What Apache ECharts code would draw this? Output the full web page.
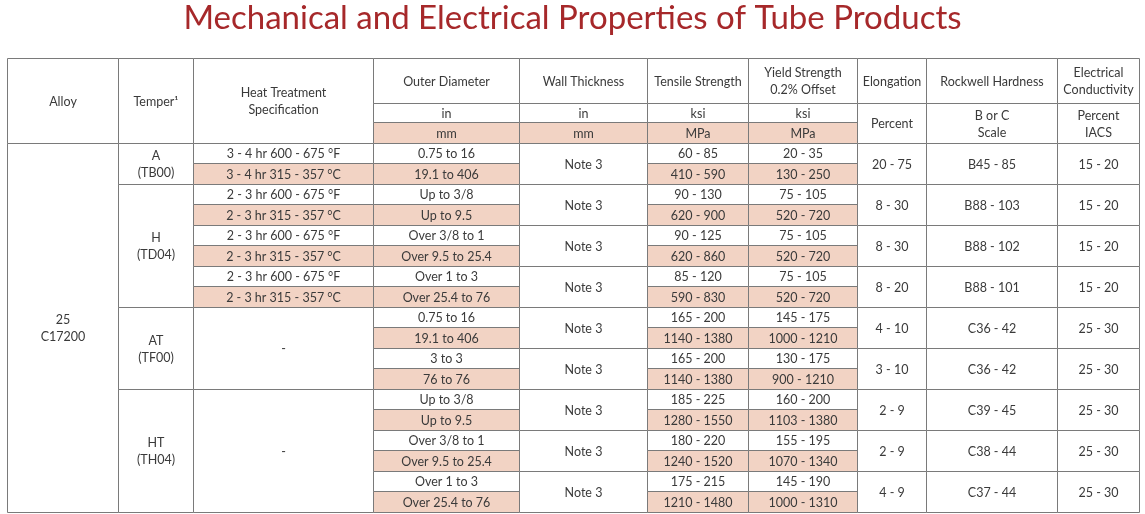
<!DOCTYPE html>
<html>
<head>
<meta charset="utf-8">
<script src="https://cdn.jsdelivr.net/npm/echarts@6/dist/echarts.min.js"></script>
<style>
html,body{margin:0;padding:0;background:#fff;}
#chart{width:1145px;height:514px;}
</style>
</head>
<body>
<div id="chart"></div>
<script>
// ---------- DATA ----------
const title = 'Mechanical and Electrical Properties of Tube Products';
const headerTitles = ['Alloy', 'Temper\u00b9', 'Heat Treatment\nSpecification', 'Outer Diameter', 'Wall Thickness',
  'Tensile Strength', 'Yield Strength\n0.2% Offset', 'Elongation', 'Rockwell Hardness', 'Electrical\nConductivity'];
const unitsImperial = ['in', 'in', 'ksi', 'ksi'];
const unitsMetric = ['mm', 'mm', 'MPa', 'MPa'];
const unitsMerged = ['Percent', 'B or C\nScale', 'Percent\nIACS'];

const alloy = '25\nC17200';
const temperLabels = ['A\n(TB00)', 'H\n(TD04)', 'AT\n(TF00)', 'HT\n(TH04)'];
const temperGroupCounts = [1, 3, 2, 3];

const heatF = ['3 - 4 hr 600 - 675 °F', '2 - 3 hr 600 - 675 °F', '2 - 3 hr 600 - 675 °F', '2 - 3 hr 600 - 675 °F', '-', '-', '-', '-', '-'];
const heatC = ['3 - 4 hr 315 - 357 °C', '2 - 3 hr 315 - 357 °C', '2 - 3 hr 315 - 357 °C', '2 - 3 hr 315 - 357 °C', '-', '-', '-', '-', '-'];
const odIn = ['0.75 to 16', 'Up to 3/8', 'Over 3/8 to 1', 'Over 1 to 3', '0.75 to 16', '3 to 3', 'Up to 3/8', 'Over 3/8 to 1', 'Over 1 to 3'];
const odMm = ['19.1 to 406', 'Up to 9.5', 'Over 9.5 to 25.4', 'Over 25.4 to 76', '19.1 to 406', '76 to 76', 'Up to 9.5', 'Over 9.5 to 25.4', 'Over 25.4 to 76'];
const wall = ['Note 3', 'Note 3', 'Note 3', 'Note 3', 'Note 3', 'Note 3', 'Note 3', 'Note 3', 'Note 3'];
const tensileKsi = ['60 - 85', '90 - 130', '90 - 125', '85 - 120', '165 - 200', '165 - 200', '185 - 225', '180 - 220', '175 - 215'];
const tensileMPa = ['410 - 590', '620 - 900', '620 - 860', '590 - 830', '1140 - 1380', '1140 - 1380', '1280 - 1550', '1240 - 1520', '1210 - 1480'];
const yieldKsi = ['20 - 35', '75 - 105', '75 - 105', '75 - 105', '145 - 175', '130 - 175', '160 - 200', '155 - 195', '145 - 190'];
const yieldMPa = ['130 - 250', '520 - 720', '520 - 720', '520 - 720', '1000 - 1210', '900 - 1210', '1103 - 1380', '1070 - 1340', '1000 - 1310'];
const elongation = ['20 - 75', '8 - 30', '8 - 30', '8 - 20', '4 - 10', '3 - 10', '2 - 9', '2 - 9', '4 - 9'];
const rockwell = ['B45 - 85', 'B88 - 103', 'B88 - 102', 'B88 - 101', 'C36 - 42', 'C36 - 42', 'C39 - 45', 'C38 - 44', 'C37 - 44'];
const conductivity = ['15 - 20', '15 - 20', '15 - 20', '15 - 20', '25 - 30', '25 - 30', '25 - 30', '25 - 30', '25 - 30'];

// ---------- LAYOUT (sizes, not data) ----------
const colWidths = [111, 75, 180, 146, 128, 101, 109, 69, 131, 82];
const headerHeights = [45, 19.5, 20.5];
const dataRowHeight = 20.5;
const PINK = '#f2d3c4';
const LINE = '#7a7a7a';
const TEXT = '#3a3a3a';
const FONT = 'Lato, "Open Sans", sans-serif';

const nGroups = odIn.length;
const nDataRows = nGroups * 2;
const colEdges = [0];
colWidths.forEach(w => colEdges.push(colEdges[colEdges.length - 1] + w));
const rowHeights = headerHeights.concat(new Array(nDataRows).fill(dataRowHeight));
const rowEdges = [0];
rowHeights.forEach(h => rowEdges.push(rowEdges[rowEdges.length - 1] + h));
const totalW = colEdges[colEdges.length - 1];
const totalH = rowEdges[rowEdges.length - 1];

// ---------- CELLS (logical spans) ----------
const cells = [];
function cell(c0, c1, r0, r1, text, fill) { cells.push({ value: [c0, c1, r0, r1], text: text, fill: fill || '#ffffff' }); }

// header
cell(0, 0, 0, 2, headerTitles[0]);
cell(1, 1, 0, 2, headerTitles[1]);
cell(2, 2, 0, 2, headerTitles[2]);
for (let k = 0; k < 4; k++) {
  cell(3 + k, 3 + k, 0, 0, headerTitles[3 + k]);
  cell(3 + k, 3 + k, 1, 1, unitsImperial[k]);
  cell(3 + k, 3 + k, 2, 2, unitsMetric[k], PINK);
}
for (let k = 0; k < 3; k++) {
  cell(7 + k, 7 + k, 0, 0, headerTitles[7 + k]);
  cell(7 + k, 7 + k, 1, 2, unitsMerged[k]);
}

// body
const H0 = 3;
cell(0, 0, H0, H0 + nDataRows - 1, alloy);
let g = 0;
temperLabels.forEach((lab, t) => {
  const cnt = temperGroupCounts[t];
  const r0 = H0 + g * 2, r1 = r0 + cnt * 2 - 1;
  cell(1, 1, r0, r1, lab);
  if (heatF[g] === '-') {
    cell(2, 2, r0, r1, heatF[g]);
  }
  for (let i = 0; i < cnt; i++) {
    const gi = g + i;
    const ra = H0 + gi * 2, rb = ra + 1;
    if (heatF[gi] !== '-') {
      cell(2, 2, ra, ra, heatF[gi]);
      cell(2, 2, rb, rb, heatC[gi], PINK);
    }
    cell(3, 3, ra, ra, odIn[gi]);
    cell(3, 3, rb, rb, odMm[gi], PINK);
    cell(4, 4, ra, rb, wall[gi]);
    cell(5, 5, ra, ra, tensileKsi[gi]);
    cell(5, 5, rb, rb, tensileMPa[gi], PINK);
    cell(6, 6, ra, ra, yieldKsi[gi]);
    cell(6, 6, rb, rb, yieldMPa[gi], PINK);
    cell(7, 7, ra, rb, elongation[gi]);
    cell(8, 8, ra, rb, rockwell[gi]);
    cell(9, 9, ra, rb, conductivity[gi]);
  }
  g += cnt;
});

function crisp(v) { return Math.round(v - 0.5) + 0.5; }

const chart = echarts.init(document.getElementById('chart'), null, { renderer: 'canvas' });
chart.setOption({
  animation: false,
  backgroundColor: '#ffffff',
  title: {
    text: title, left: 'center', top: -3,
    textStyle: { color: '#a6282a', fontFamily: FONT, fontWeight: 'normal', fontSize: 33 }
  },
  grid: { left: 7, top: 58, width: 1132, height: 454, containLabel: false },
  xAxis: { type: 'value', min: 0, max: totalW, show: false },
  yAxis: { type: 'value', min: 0, max: totalH, inverse: true, show: false },
  series: [{
    type: 'custom',
    coordinateSystem: 'cartesian2d',
    data: cells,
    clip: false,
    renderItem: function (params, api) {
      const c0 = api.value(0), c1 = api.value(1), r0 = api.value(2), r1 = api.value(3);
      const p0 = api.coord([colEdges[c0], rowEdges[r0]]);
      const p1 = api.coord([colEdges[c1 + 1], rowEdges[r1 + 1]]);
      const x0 = crisp(p0[0]), y0 = crisp(p0[1]), x1 = crisp(p1[0]), y1 = crisp(p1[1]);
      const item = cells[params.dataIndex];
      return {
        type: 'group',
        children: [{
          type: 'rect',
          shape: { x: x0, y: y0, width: x1 - x0, height: y1 - y0 },
          style: { fill: item.fill, stroke: LINE, lineWidth: 1 }
        }, {
          type: 'text',
          x: (x0 + x1) / 2, y: (y0 + y1) / 2 + 0.5,
          style: {
            text: item.text, fill: TEXT, fontFamily: FONT, fontSize: 12.5,
            align: 'center', verticalAlign: 'middle', lineHeight: 17
          }
        }]
      };
    }
  }]
});
</script>
</body>
</html>
